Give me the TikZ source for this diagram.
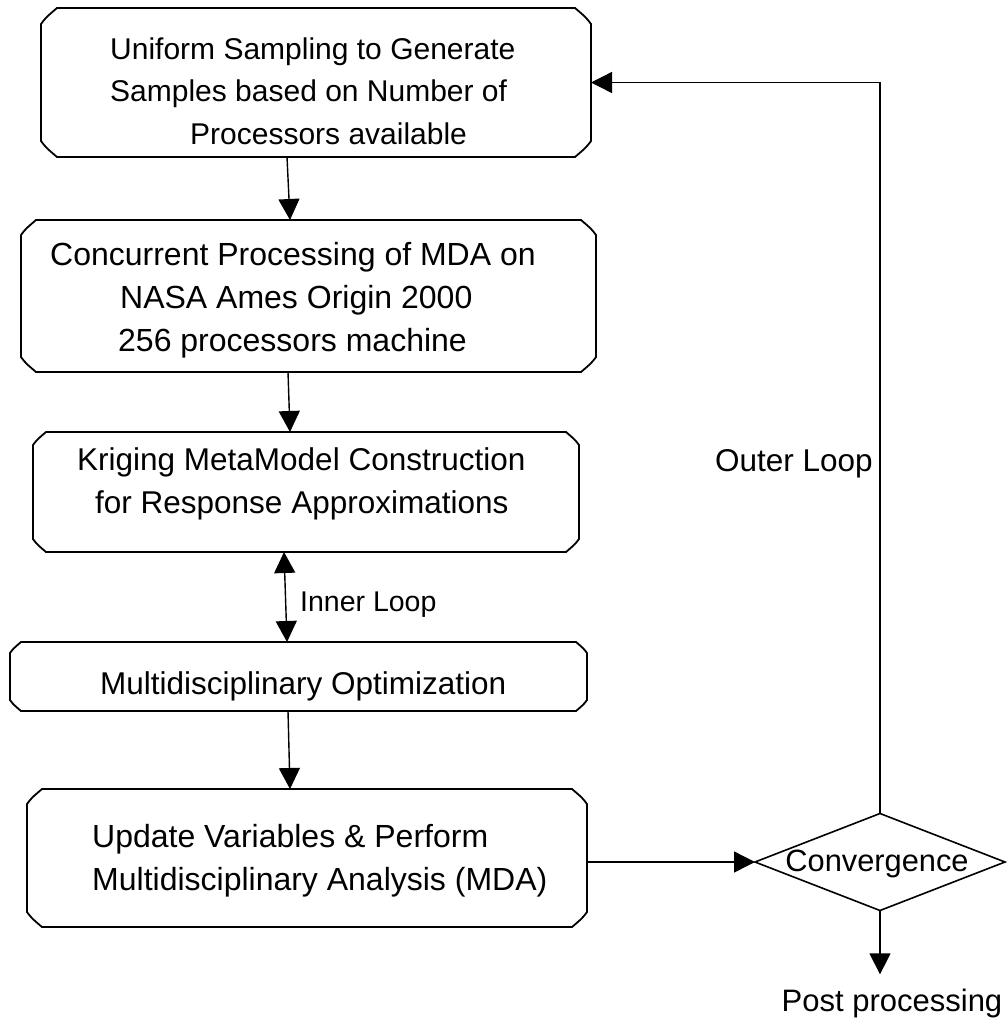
\documentclass[tikz,border=0pt]{standalone}
\usepackage{fontspec}
\setmainfont{Liberation Sans}
\usetikzlibrary{arrows.meta,calc}
\tikzset{
  boxanchor/.style={shape=rectangle,inner sep=0pt,outer sep=0pt},
  boxline/.style={line width=1.8pt,line join=miter},
  conn/.style={line width=1.4pt,-{Triangle[length=21pt,width=21pt]}},
  bconn/.style={line width=1.4pt,{Triangle[length=21pt,width=21pt]}-{Triangle[length=21pt,width=21pt]}},
  txt/.style={anchor=base west,inner sep=0pt,font=\fontsize{#1}{36pt}\selectfont},
  txt/.default=30.5pt,
}
% draw a box with notched corners around a named node
\newcommand{\notchbox}[2]{%
  \draw[boxline]
    ($(#1.north west)+(#2,0)$) -- ($(#1.north east)+(-#2,0)$)
    .. controls ($(#1.north east)+(-0.3*#2,0.6*#2)$) .. ($(#1.north east)+(0,#2)$)
    -- ($(#1.south east)+(0,-#2)$)
    .. controls ($(#1.south east)+(-0.3*#2,-0.6*#2)$) .. ($(#1.south east)+(-#2,0)$)
    -- ($(#1.south west)+(#2,0)$)
    .. controls ($(#1.south west)+(0.3*#2,-0.6*#2)$) .. ($(#1.south west)+(0,-#2)$)
    -- ($(#1.north west)+(0,#2)$)
    .. controls ($(#1.north west)+(0.3*#2,0.6*#2)$) .. cycle;}
\begin{document}
\begin{tikzpicture}[x=1pt,y=-1pt]
\useasboundingbox (0,0) rectangle (1007,1018);
\node[boxanchor,minimum width=550pt,minimum height=149pt] (b1) at (316,82.5) {};
\node[boxanchor,minimum width=575pt,minimum height=152pt] (b2) at (308.5,296) {};
\node[boxanchor,minimum width=546pt,minimum height=120pt] (b3) at (306,492) {};
\node[boxanchor,minimum width=577pt,minimum height=69pt] (b4) at (298.5,676.5) {};
\node[boxanchor,minimum width=560pt,minimum height=138pt] (b5) at (307,858) {};
\notchbox{b1}{16}
\notchbox{b2}{15}
\notchbox{b3}{13}
\notchbox{b4}{11}
\notchbox{b5}{15}
% diamond
\node[boxanchor,minimum width=250pt,minimum height=97pt] (d) at (880,862) {};
\draw[line width=1.6pt,line join=miter] (d.west) -- (d.north) -- (d.east) -- (d.south) -- cycle;
\node[anchor=center,inner sep=0pt,font=\fontsize{30.8pt}{36pt}\selectfont] (conv) at (877,864) {Convergence};
% texts
\node[txt=30pt] (t11) at (110,59) {Uniform Sampling to Generate};
\node[txt=30pt] (t12) at (110,101) {Samples based on Number of};
\node[txt=30pt] (t13) at (190,144) {Processors available};
\node[txt=32pt] (t21) at (50,265) {Concurrent Processing of MDA on};
\node[txt=32pt] (t22) at (120,308) {NASA Ames Origin 2000};
\node[txt=32pt] (t23) at (118,351) {256 processors machine};
\node[txt=31.5pt] (t31) at (77,470) {Kriging MetaModel Construction};
\node[txt=31.5pt] (t32) at (95,513) {for Response Approximations};
\node[txt=31.5pt] (t41) at (100,694) {Multidisciplinary Optimization};
\node[txt=32pt] (t51) at (92,847) {Update Variables \& Perform};
\node[txt=32pt] (t52) at (92,890) {Multidisciplinary Analysis (MDA)};
\node[txt=28.5pt] (inner) at (300,611) {Inner Loop};
\node[txt=31.5pt,anchor=base east] (outer) at (873,471) {Outer Loop};
\node[txt=31pt,anchor=base] (post) at (892,1011) {Post processing};
% connectors
\draw[conn] ([xshift=-29pt]b1.south) -- ([xshift=-18.5pt]b2.north);
\draw[conn] ([xshift=-20.5pt]b2.south) -- ([xshift=-16pt]b3.north);
\draw[bconn] ([xshift=-22pt]b3.south) -- ([xshift=-11.5pt]b4.north);
\draw[conn] ([xshift=-10.5pt]b4.south) -- ([xshift=-17pt]b5.north);
\draw[conn] (b5.east |- d.west) -- (d.west);
\draw[conn] (d.north) |- (b1.east);
\draw[conn,shorten >=14pt] (d.south) -- (d.south |- post.north);
\end{tikzpicture}
\end{document}
